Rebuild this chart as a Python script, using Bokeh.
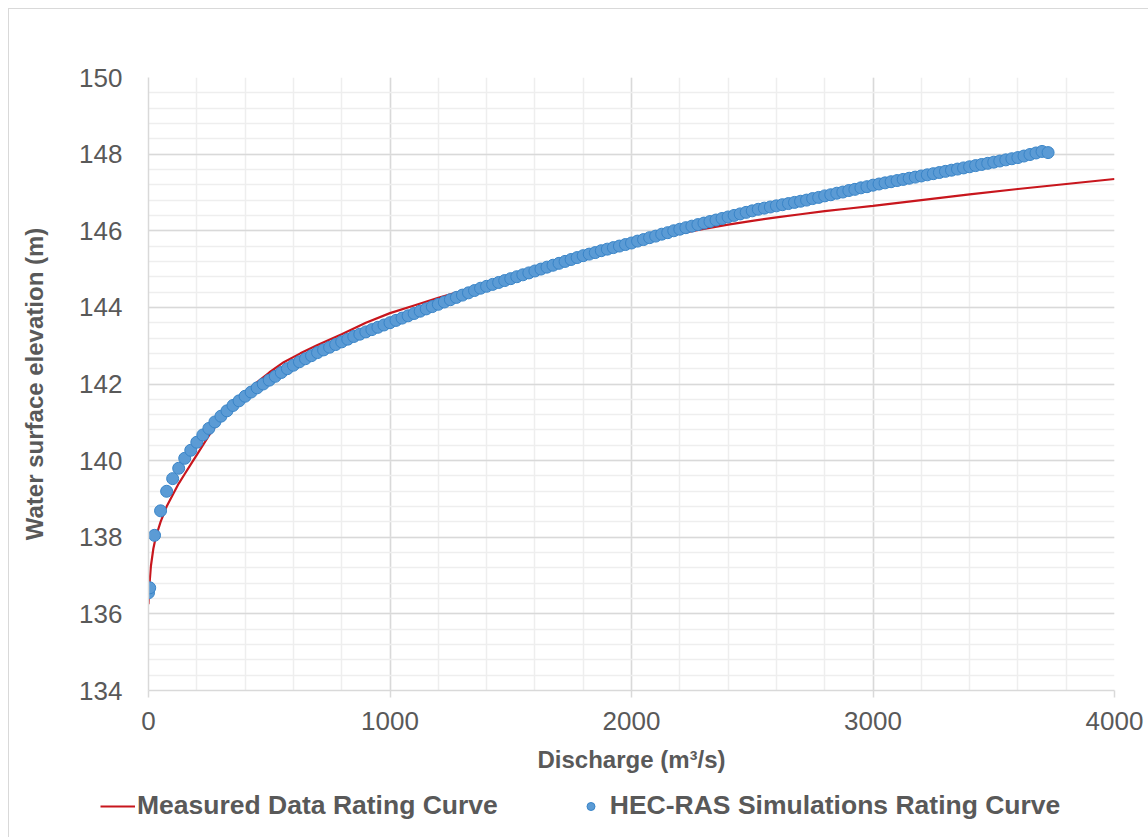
from bokeh.plotting import figure
from bokeh.models import FixedTicker, Legend, LegendItem, Range1d, ColumnDataSource
from bokeh.embed import file_html
from bokeh.resources import INLINE

# ---- data ----
hec_q = [0, 5, 25, 50, 75, 100, 125, 150, 175, 200, 225, 250, 275, 300, 325, 350, 375, 400,
         425, 450, 475, 500, 525, 550, 575, 600, 625, 650, 675, 700, 725, 750, 775, 800,
         825, 850, 875, 900, 925, 950, 975, 1000, 1025, 1050, 1075, 1100, 1125, 1150, 1175,
         1200, 1225, 1250, 1275, 1300, 1325, 1350, 1375, 1400, 1425, 1450, 1475, 1500, 1525,
         1550, 1575, 1600, 1625, 1650, 1675, 1700, 1725, 1750, 1775, 1800, 1825, 1850, 1875,
         1900, 1925, 1950, 1975, 2000, 2025, 2050, 2075, 2100, 2125, 2150, 2175, 2200, 2225,
         2250, 2275, 2300, 2325, 2350, 2375, 2400, 2425, 2450, 2475, 2500, 2525, 2550, 2575,
         2600, 2625, 2650, 2675, 2700, 2725, 2750, 2775, 2800, 2825, 2850, 2875, 2900, 2925,
         2950, 2975, 3000, 3025, 3050, 3075, 3100, 3125, 3150, 3175, 3200, 3225, 3250, 3275,
         3300, 3325, 3350, 3375, 3400, 3425, 3450, 3475, 3500, 3525, 3550, 3575, 3600, 3625,
         3650, 3675, 3700, 3725]
hec_wse = [136.55, 136.68, 138.05, 138.69, 139.20, 139.53, 139.80, 140.06, 140.27, 140.48,
           140.67, 140.84, 141.01, 141.16, 141.30, 141.44, 141.56, 141.68, 141.79, 141.90,
           142.00, 142.10, 142.20, 142.30, 142.40, 142.49, 142.58, 142.66, 142.74, 142.82,
           142.89, 142.96, 143.03, 143.10, 143.17, 143.24, 143.30, 143.36, 143.42, 143.48,
           143.54, 143.60, 143.66, 143.72, 143.78, 143.84, 143.90, 143.96, 144.02, 144.08,
           144.14, 144.20, 144.26, 144.32, 144.38, 144.44, 144.50, 144.55, 144.60, 144.65,
           144.70, 144.75, 144.80, 144.85, 144.90, 144.95, 145.00, 145.05, 145.10, 145.15,
           145.20, 145.25, 145.30, 145.35, 145.39, 145.43, 145.48, 145.52, 145.56, 145.60,
           145.64, 145.68, 145.73, 145.77, 145.82, 145.86, 145.91, 145.95, 146.00, 146.04,
           146.08, 146.12, 146.16, 146.20, 146.24, 146.28, 146.32, 146.36, 146.40, 146.44,
           146.48, 146.52, 146.56, 146.59, 146.62, 146.65, 146.68, 146.71, 146.74, 146.77,
           146.80, 146.84, 146.87, 146.91, 146.94, 146.98, 147.01, 147.05, 147.08, 147.12,
           147.15, 147.19, 147.22, 147.25, 147.28, 147.31, 147.34, 147.37, 147.40, 147.43,
           147.46, 147.49, 147.52, 147.55, 147.58, 147.61, 147.64, 147.67, 147.70, 147.73,
           147.76, 147.79, 147.82, 147.85, 147.88, 147.91, 147.95, 147.99, 148.03, 148.07,
           148.04]

meas_q = [0, 5, 10, 20, 30, 50, 75, 100, 125, 150, 175, 200, 250, 300, 350, 400, 450, 500,
          560, 629, 700, 800, 900, 1000, 1100, 1200, 1300, 1400, 1500, 1600, 1700, 1800,
          1900, 2000, 2100, 2200, 2300, 2400, 2500, 2600, 2700, 2800, 2900, 3000, 3200,
          3400, 3600, 3800, 4000]
meas_wse = [136.25, 136.85, 137.25, 137.70, 138.00, 138.40, 138.80, 139.10, 139.40, 139.65,
            139.90, 140.15, 140.65, 141.10, 141.45, 141.78, 142.05, 142.30, 142.57, 142.80,
            143.02, 143.30, 143.60, 143.85, 144.05, 144.25, 144.43, 144.60, 144.78, 144.95,
            145.12, 145.30, 145.47, 145.64, 145.79, 145.93, 146.05, 146.16, 146.26, 146.35,
            146.43, 146.51, 146.58, 146.65, 146.80, 146.95, 147.09, 147.22, 147.35]

x_major = [0, 1000, 2000, 3000, 4000]
x_minor = [v for v in range(0, 4001, 200)]
y_major = [134, 136, 138, 140, 142, 144, 146, 148, 150]
y_minor = [round(134 + 0.4 * i, 1) for i in range(41)]

x_title = "Discharge (m³/s)"
y_title = "Water surface elevation (m)"
label_meas = "Measured Data Rating Curve"
label_hec = "HEC-RAS Simulations Rating Curve"

TXT = "#595959"
FONT = "Liberation Sans"
RED = "#C8161D"
BLUE_FILL = "#5B9BD5"
BLUE_LINE = "#3A85C8"

src_m = ColumnDataSource(dict(q=meas_q, h=meas_wse))
src_h = ColumnDataSource(dict(q=hec_q, h=hec_wse))

# ---- main chart ----
p = figure(frame_width=966, frame_height=613,
           min_border_left=139, min_border_right=34, min_border_top=68, min_border_bottom=95,
           x_range=Range1d(0, 4000), y_range=Range1d(134, 150),
           output_backend="svg", toolbar_location=None)
p.styles = {"margin-left": "8px", "margin-top": "8px",
            "border-top": "1px solid #d9d9d9", "border-left": "1px solid #d9d9d9"}
p.outline_line_color = None
p.background_fill_color = "white"
p.border_fill_color = "white"

p.xaxis.ticker = FixedTicker(ticks=x_major, minor_ticks=x_minor)
p.yaxis.ticker = FixedTicker(ticks=y_major, minor_ticks=y_minor)
p.xgrid.ticker = FixedTicker(ticks=x_major, minor_ticks=x_minor)
p.ygrid.ticker = FixedTicker(ticks=y_major, minor_ticks=y_minor)

for g in (p.xgrid, p.ygrid):
    g.grid_line_color = "#d9d9d9"
    g.grid_line_width = 1.5
    g.minor_grid_line_color = "#eeeeee"
    g.minor_grid_line_width = 1.5

for ax in (p.xaxis, p.yaxis):
    ax.axis_line_color = "#d9d9d9"
    ax.axis_line_width = 1.5
    ax.major_tick_line_color = "#d9d9d9"
    ax.major_tick_line_width = 1.5
    ax.minor_tick_line_color = None
    ax.major_label_text_color = TXT
    ax.major_label_text_font = FONT
    ax.major_label_text_font_size = "26px"
    ax.axis_label_text_color = TXT
    ax.axis_label_text_font = FONT
    ax.axis_label_text_font_style = "bold"
    ax.axis_label_text_font_size = "24px"

p.xaxis.major_tick_in = 0
p.xaxis.major_tick_out = 7
p.xaxis.major_label_standoff = 14
p.xaxis.axis_label = x_title
p.xaxis.axis_label_standoff = 13

p.yaxis.major_tick_in = 0
p.yaxis.major_tick_out = 0
p.yaxis.major_label_standoff = 22
p.yaxis.axis_label = y_title
p.yaxis.axis_label_standoff = 28

p.line("q", "h", source=src_m, line_color=RED, line_width=2.2)
p.scatter("q", "h", source=src_h, size=12, fill_color=BLUE_FILL,
          line_color=BLUE_LINE, line_width=1)

# ---- legend strip below the chart (same series, its view shows only the legend) ----
p2 = figure(width=1139, height=52, min_border=0, x_range=Range1d(0, 1), y_range=Range1d(0, 1),
            x_axis_type=None, y_axis_type=None,
            output_backend="svg", toolbar_location=None)
p2.styles = {"margin-left": "8px", "border-left": "1px solid #d9d9d9"}
p2.grid.visible = False
p2.outline_line_color = None
p2.background_fill_color = "white"
p2.border_fill_color = "white"

lg_line = p2.line("q", "h", source=src_m, line_color=RED, line_width=2.2)
lg_pts = p2.scatter("q", "h", source=src_h, size=13, fill_color=BLUE_FILL,
                    line_color=BLUE_LINE, line_width=1)

legend = Legend(items=[LegendItem(label=label_meas, renderers=[lg_line]),
                       LegendItem(label=label_hec, renderers=[lg_pts])],
                orientation="horizontal", location=(91, 16),
                glyph_width=35, glyph_height=20, label_standoff=2, spacing=75,
                padding=0, margin=0, border_line_color=None, background_fill_alpha=0,
                label_text_font=FONT, label_text_font_style="bold",
                label_text_font_size="26.5px", label_text_color=TXT)
p2.add_layout(legend, "center")

open("out.html", "w").write(file_html([p, p2], INLINE))
